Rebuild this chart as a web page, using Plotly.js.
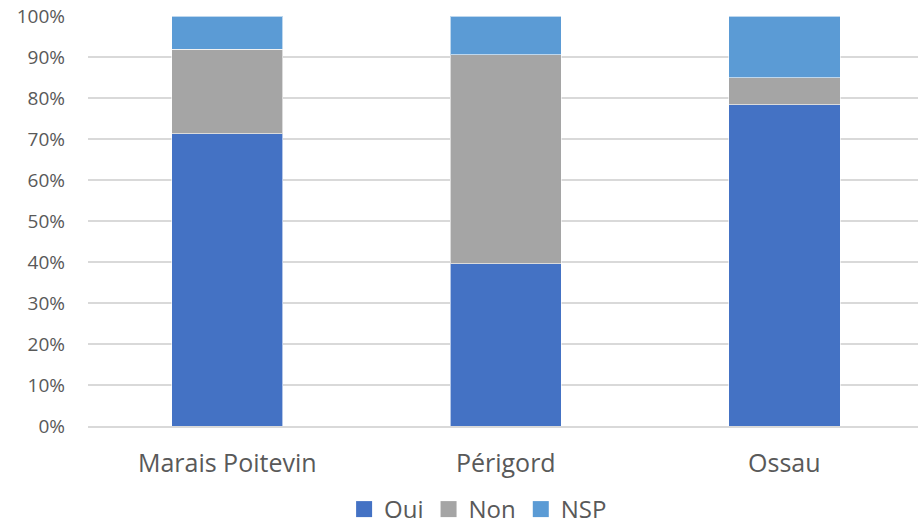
<!DOCTYPE html>
<html><head><meta charset="utf-8">
<script src="https://cdn.plot.ly/plotly-3.0.1.min.js"></script>
<style>html,body{margin:0;padding:0;background:#fff}</style>
</head><body><div id="chart" style="width:918px;height:532px"></div>
<script>
const categories = ["Marais Poitevin", "Périgord", "Ossau"];
const seriesNames = ["Oui", "Non", "NSP"];
const oui = [71.3, 39.6, 78.4];
const non = [20.6, 51.0, 6.6];
const nsp = [8.1, 9.4, 15.0];
const colors = ["#4472C4", "#A5A5A5", "#5B9BD5"];
const tickVals = [0,10,20,30,40,50,60,70,80,90,100];
const tickText = tickVals.map(v => v + "%");

const values = [oui, non, nsp];
const data = values.map((y, i) => ({
  type: "bar", name: seriesNames[i], x: categories, y: y,
  marker: {color: colors[i], line: {color: "rgba(255,255,255,0.6)", width: 1}},
  showlegend: false, legendgroup: seriesNames[i]
}));
// legend entries with larger square swatches
seriesNames.forEach((n, i) => data.push({
  type: "scatter", mode: "markers", name: n, x: [null], y: [null],
  marker: {symbol: "square", size: 18, color: colors[i]},
  showlegend: true, legendgroup: n
}));

const layout = {
  width: 918, height: 532,
  margin: {l: 88, r: 0, t: 16, b: 106},
  barmode: "stack", bargap: 0.6,
  paper_bgcolor: "#fff", plot_bgcolor: "#fff",
  font: {family: "Open Sans, Liberation Sans, sans-serif", color: "#595959"},
  xaxis: {tickfont: {size: 25, color: "#595959"}, showline: true, linecolor: "#d9d9d9", linewidth: 1.5,
          ticks: "", range: [-0.5, 2.48], ticklabelstandoff: 14, automargin: false},
  yaxis: {range: [0, 100], tickvals: tickVals, ticktext: tickText, tickfont: {size: 19, color: "#595959"},
          gridcolor: "#d9d9d9", gridwidth: 1.5, zeroline: false, ticks: "", ticklabelstandoff: 22, automargin: false},
  showlegend: true,
  legend: {orientation: "h", x: 0.47, xanchor: "center", yref: "container", y: -0.016, yanchor: "bottom",
           font: {size: 24, color: "#595959"}, traceorder: "normal", itemsizing: "trace", itemwidth: 30},
};
Plotly.newPlot("chart", data, layout, {staticPlot: true});
</script></body></html>
